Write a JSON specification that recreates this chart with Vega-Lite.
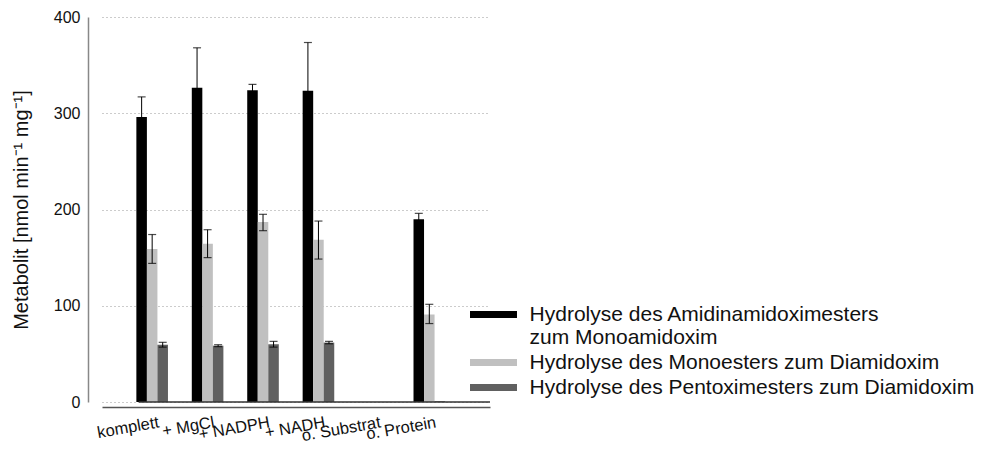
{
  "$schema": "https://vega.github.io/schema/vega-lite/v6.json",
  "autosize": "none",
  "width": 388,
  "height": 385,
  "padding": {"left": 102, "top": 17, "right": 496, "bottom": 48},
  "background": "white",
  "config": {
    "font": "Liberation Sans",
    "view": {"stroke": null}
  },
  "data": {
    "values": [
      {"cat": "komplett", "series": "Hydrolyse des Amidinamidoximesters zum Monoamidoxim", "value": 296, "lo": 275, "hi": 317},
      {"cat": "komplett", "series": "Hydrolyse des Monoesters zum Diamidoxim", "value": 159, "lo": 144, "hi": 174},
      {"cat": "komplett", "series": "Hydrolyse des Pentoximesters zum Diamidoxim", "value": 59.5, "lo": 57, "hi": 62},
      {"cat": "+ MgCl", "series": "Hydrolyse des Amidinamidoximesters zum Monoamidoxim", "value": 326.5, "lo": 285, "hi": 368},
      {"cat": "+ MgCl", "series": "Hydrolyse des Monoesters zum Diamidoxim", "value": 164.5, "lo": 150, "hi": 179},
      {"cat": "+ MgCl", "series": "Hydrolyse des Pentoximesters zum Diamidoxim", "value": 58.5, "lo": 57.5, "hi": 59.5},
      {"cat": "+ NADPH", "series": "Hydrolyse des Amidinamidoximesters zum Monoamidoxim", "value": 324, "lo": 318, "hi": 330},
      {"cat": "+ NADPH", "series": "Hydrolyse des Monoesters zum Diamidoxim", "value": 187, "lo": 178, "hi": 195},
      {"cat": "+ NADPH", "series": "Hydrolyse des Pentoximesters zum Diamidoxim", "value": 60, "lo": 57, "hi": 63},
      {"cat": "+  NADH", "series": "Hydrolyse des Amidinamidoximesters zum Monoamidoxim", "value": 323.5, "lo": 273.5, "hi": 373.5},
      {"cat": "+  NADH", "series": "Hydrolyse des Monoesters zum Diamidoxim", "value": 168.5, "lo": 148.5, "hi": 188},
      {"cat": "+  NADH", "series": "Hydrolyse des Pentoximesters zum Diamidoxim", "value": 61.7, "lo": 60.5, "hi": 63},
      {"cat": "o. Substrat", "series": "Hydrolyse des Amidinamidoximesters zum Monoamidoxim", "value": 0},
      {"cat": "o. Substrat", "series": "Hydrolyse des Monoesters zum Diamidoxim", "value": 0},
      {"cat": "o. Substrat", "series": "Hydrolyse des Pentoximesters zum Diamidoxim", "value": 0},
      {"cat": "o. Protein", "series": "Hydrolyse des Amidinamidoximesters zum Monoamidoxim", "value": 190, "lo": 184, "hi": 196},
      {"cat": "o. Protein", "series": "Hydrolyse des Monoesters zum Diamidoxim", "value": 91, "lo": 81.5, "hi": 101.5},
      {"cat": "o. Protein", "series": "Hydrolyse des Pentoximesters zum Diamidoxim", "value": 0.8}
    ]
  },
  "encoding": {
    "x": {
      "field": "cat", "type": "nominal", "sort": null,
      "scale": {"paddingInner": 0.24, "paddingOuter": 0.62},
      "axis": {
        "title": null, "ticks": false, "domainColor": "#555555", "domainWidth": 1.5,
        "offset": 5, "labelAngle": -10, "labelAlign": "right", "labelBaseline": "top",
        "labelPadding": 7, "labelFontSize": 16.5, "labelColor": "#111111", "labelOffset": 0
      }
    },
    "xOffset": {
      "field": "series", "type": "nominal", "sort": null,
      "scale": {"paddingInner": 0, "paddingOuter": 0}
    }
  },
  "layer": [
    {
      "mark": {"type": "bar"},
      "encoding": {
        "y": {
          "field": "value", "type": "quantitative",
          "scale": {"domain": [0, 400]},
          "axis": {
            "title": "Metabolit [nmol min⁻¹ mg⁻¹]", "titleFontSize": 20, "titleFontWeight": "normal",
            "titleColor": "#111111", "titlePadding": 22,
            "values": [0, 100, 200, 300, 400], "ticks": false, "offset": 14,
            "domainColor": "#888888", "domainWidth": 1.5,
            "labelFontSize": 16, "labelColor": "#111111", "labelPadding": 8,
            "grid": true, "gridDash": [1, 3], "gridColor": "#999999", "gridWidth": 1
          }
        },
        "color": {
          "field": "series", "type": "nominal",
          "scale": {
            "domain": ["Hydrolyse des Amidinamidoximesters zum Monoamidoxim", "Hydrolyse des Monoesters zum Diamidoxim", "Hydrolyse des Pentoximesters zum Diamidoxim"],
            "range": ["#000000", "#c0c0c0", "#606060"]
          },
          "legend": {
            "title": null, "orient": "none", "legendX": 381, "legendY": 287,
            "symbolType": "M -4 -0.6 L 4 -0.6 L 4 0.6 L -4 0.6 Z",
            "symbolSize": 138, "symbolStrokeWidth": 0, "symbolOpacity": 1,
            "labelFontSize": 21, "labelColor": "#111111", "labelLimit": 600,
            "labelOffset": 25.6, "rowPadding": 3, "padding": 0,
            "labelExpr": "datum.label == 'Hydrolyse des Amidinamidoximesters zum Monoamidoxim' ? ['Hydrolyse des Amidinamidoximesters', 'zum Monoamidoxim'] : datum.label"
          }
        }
      }
    },
    {
      "mark": {"type": "rule", "color": "#000000", "strokeWidth": 1},
      "encoding": {
        "y": {"field": "lo", "type": "quantitative"},
        "y2": {"field": "hi"}
      }
    },
    {
      "mark": {"type": "tick", "color": "#000000", "thickness": 1.2, "size": 8},
      "encoding": {"y": {"field": "lo", "type": "quantitative"}}
    },
    {
      "mark": {"type": "tick", "color": "#000000", "thickness": 1.2, "size": 8},
      "encoding": {"y": {"field": "hi", "type": "quantitative"}}
    },
    {
      "data": {"values": [{"base": 0}]},
      "mark": {"type": "rule", "color": "#333333", "strokeWidth": 1.5},
      "encoding": {"y": {"field": "base", "type": "quantitative"}, "x": {"value": 0}, "x2": {"value": 388}}
    }
  ]
}
